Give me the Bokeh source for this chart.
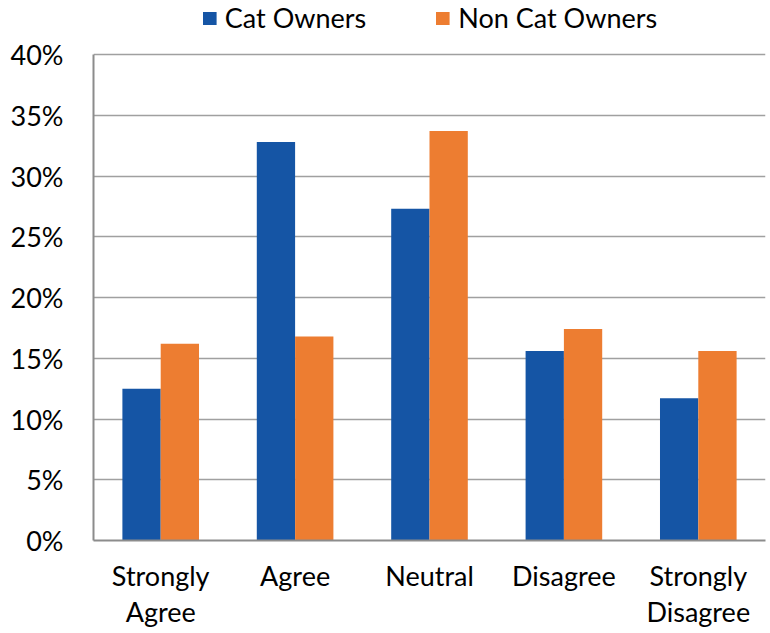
from bokeh.plotting import figure
from bokeh.models import ColumnDataSource, FactorRange, Range1d, FixedTicker, NumeralTickFormatter, Legend, LegendItem
from bokeh.transform import dodge
from bokeh.embed import file_html
from bokeh.resources import INLINE

categories = ["Strongly\nAgree", "Agree", "Neutral", "Disagree", "Strongly\nDisagree"]
cat_owners = [0.125, 0.328, 0.273, 0.156, 0.117]
non_cat_owners = [0.162, 0.168, 0.337, 0.174, 0.156]
y_ticks = [0, 0.05, 0.10, 0.15, 0.20, 0.25, 0.30, 0.35, 0.40]

BLUE = "#1555A5"
ORANGE = "#ED7D31"
FONT = "Lato"
FS = "27px"

src = ColumnDataSource(dict(cat=categories, cat_owners=cat_owners, non=non_cat_owners))

# frame spans the whole top area; the extra headroom above 40% holds the legend
p = figure(x_range=FactorRange(*categories), y_range=Range1d(0, 0.40 * 540 / 486),
           frame_width=672, frame_height=540, output_backend="svg", toolbar_location=None,
           min_border_left=93, min_border_right=5, min_border_top=0, min_border_bottom=0)

r1 = p.vbar(x=dodge("cat", -0.1425, range=p.x_range), top="cat_owners", width=0.285,
            source=src, fill_color=BLUE, line_color=None)
r2 = p.vbar(x=dodge("cat", 0.1425, range=p.x_range), top="non", width=0.285,
            source=src, fill_color=ORANGE, line_color=None)

p.outline_line_color = None
p.background_fill_color = "white"
p.border_fill_color = "white"

p.yaxis.ticker = FixedTicker(ticks=y_ticks)
p.yaxis.bounds = (0, 0.40)
p.yaxis.formatter = NumeralTickFormatter(format="0%")
p.yaxis.major_tick_line_color = None
p.yaxis.minor_tick_line_color = None
p.yaxis.axis_line_color = "#8c8c8c"
p.yaxis.axis_line_width = 2
p.yaxis.major_label_standoff = 24
p.yaxis.major_label_text_font = FONT
p.yaxis.major_label_text_font_size = FS
p.yaxis.major_label_text_color = "black"

p.xaxis.major_tick_line_color = None
p.xaxis.axis_line_color = "#8c8c8c"
p.xaxis.axis_line_width = 2
p.xaxis.major_label_standoff = 12
p.xaxis.major_label_text_font = FONT
p.xaxis.major_label_text_font_size = FS
p.xaxis.major_label_text_line_height = 1.1
p.xaxis.major_label_text_color = "black"

p.xgrid.grid_line_color = None
p.ygrid.ticker = FixedTicker(ticks=y_ticks)
p.ygrid.grid_line_color = "#a0a0a0"
p.ygrid.grid_line_width = 1.5

legend = Legend(items=[LegendItem(label="Cat Owners", renderers=[r1]),
                       LegendItem(label="Non Cat Owners", renderers=[r2])],
                orientation="horizontal", location="top_center",
                border_line_color=None, background_fill_alpha=0,
                label_text_font=FONT, label_text_font_size=FS, label_text_color="black",
                glyph_width=17, glyph_height=16, spacing=68, label_standoff=7,
                padding=0, margin=1)
p.add_layout(legend, "center")

open("out.html", "w").write(file_html(p, INLINE))
